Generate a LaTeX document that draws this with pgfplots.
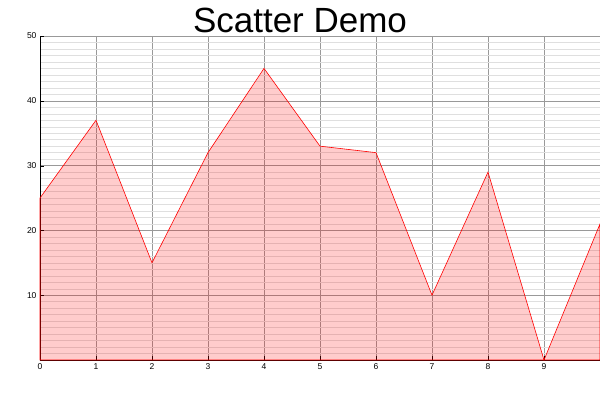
\documentclass[border=0pt]{standalone}
\usepackage{pgfplots}
\pgfplotsset{compat=1.18}
\usepackage{fontspec}
\setmainfont{Liberation Sans}
\begin{document}
\begin{tikzpicture}
\useasboundingbox (0,0) rectangle (600pt,400pt);
\begin{axis}[
  at={(40pt,40pt)}, anchor=south west,
  width=560pt, height=324pt, scale only axis,
  xmin=0, xmax=10, ymin=0, ymax=50,
  axis lines*=left, axis line style={-, black},
  xtick={0,...,9}, ytick={10,20,30,40,50},
  minor ytick={1,...,49},
  grid=both,
  major grid style={gray!80, line width=0.5pt},
  minor grid style={gray!25, line width=0.4pt},
  tick style={black}, minor tick length=0pt,
  tick label style={font=\fontsize{8.5}{9}\selectfont},
  /pgf/number format/assume math mode=true,
  title={Scatter Demo}, title style={font=\fontsize{35}{37}\selectfont, yshift=-6pt, xshift=-20pt},
  clip=false,
]
\addplot[red, fill=red, fill opacity=0.2, draw opacity=1, line width=0.6pt] coordinates {
(0,25) (1,37) (2,15) (3,32) (4,45) (5,33) (6,32) (7,10) (8,29) (9,0) (10,21)
} \closedcycle;
\end{axis}
\end{tikzpicture}
\end{document}
